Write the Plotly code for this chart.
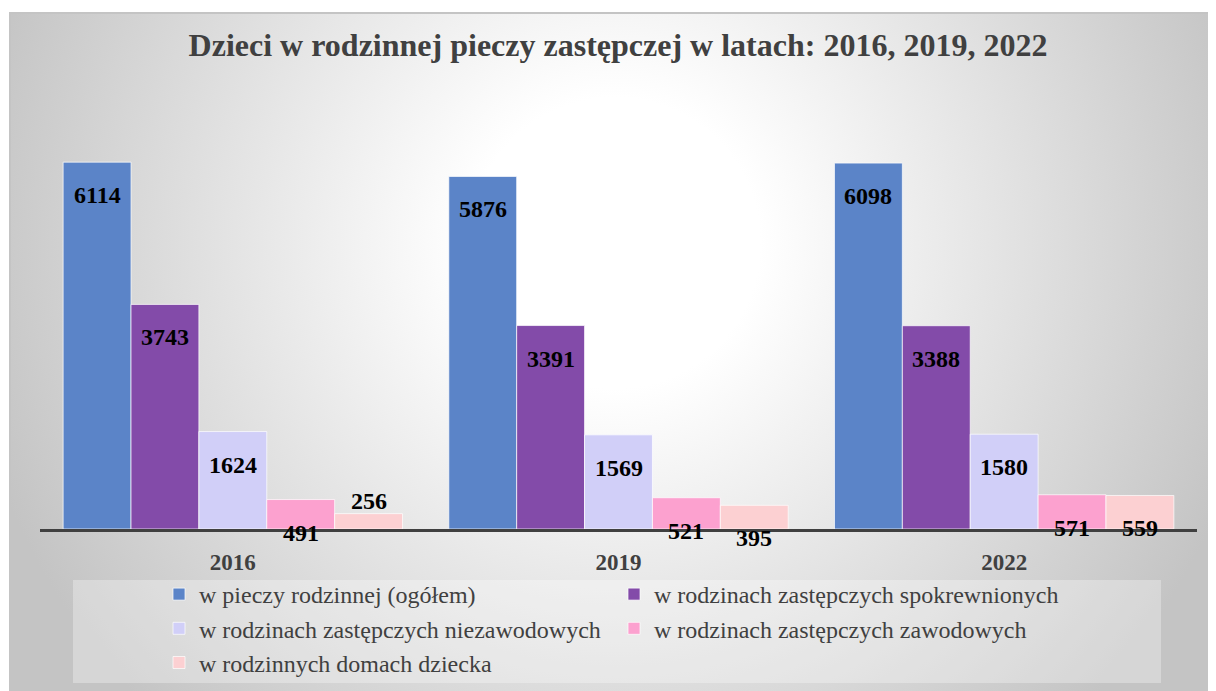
import base64
import plotly.graph_objects as go

# ---- data ----
years = ["2016", "2019", "2022"]
series_names = [
    "w pieczy rodzinnej (ogółem)",
    "w rodzinach zastępczych spokrewnionych",
    "w rodzinach zastępczych niezawodowych",
    "w rodzinach zastępczych zawodowych",
    "w rodzinnych domach dziecka",
]
ogolem = [6114, 5876, 6098]
spokrewnione = [3743, 3391, 3388]
niezawodowe = [1624, 1569, 1580]
zawodowe = [491, 521, 571]
domy_dziecka = [256, 395, 559]
title_text = "Dzieci w rodzinnej pieczy zastępczej w latach: 2016, 2019, 2022"

series_values = [ogolem, spokrewnione, niezawodowe, zawodowe, domy_dziecka]
colors = ["#5B84C8", "#834BA9", "#D1CFF8", "#FCA1CF", "#FCD0D2"]

# page body has an 8px margin: work in screen coords and subtract it
OFF = 8
W, H = 1216 - OFF, 691 - OFF
ML, MR, MT = 40 - OFF, 19, 109 - OFF
PW, PH = 1157, 420
MB = H - MT - PH


def px2x(px):  # screen px -> paper fraction
    return (px - OFF - ML) / PW


def px2y(py):
    return (MT + PH - (py - OFF)) / PH


def cx(px):  # screen px -> container fraction
    return (px - OFF) / W


def cy(py):
    return 1 - (py - OFF) / H


# background radial gradient as svg
bw_, bh_ = 1216 - 10, 691 - 13
svg = f'''<svg xmlns="http://www.w3.org/2000/svg" width="{bw_}" height="{bh_}" viewBox="0 0 {bw_} {bh_}" preserveAspectRatio="none">
<defs><radialGradient id="g" gradientUnits="userSpaceOnUse" cx="605" cy="230" r="660">
<stop offset="0" stop-color="#ffffff"/><stop offset="0.22" stop-color="#ffffff"/>
<stop offset="1" stop-color="#c4c4c4"/></radialGradient></defs>
<rect x="0" y="0" width="{bw_}" height="{bh_}" fill="url(#g)"/></svg>'''
src = "data:image/svg+xml;base64," + base64.b64encode(svg.encode()).decode()

fig = go.Figure()
for name, vals, col in zip(series_names, series_values, colors):
    fig.add_trace(go.Bar(
        name=name, x=years, y=vals,
        marker=dict(color=col, line=dict(color="rgba(255,255,255,0.7)", width=1)),
        hoverinfo="x+y+name",
    ))

# data labels
n = len(series_values)
bar_px = PW / len(years) * (1 - 0.12) / n
annotations = []
for i, vals in enumerate(series_values):
    for j, v in enumerate(vals):
        above = (i == 4 and j == 0)
        annotations.append(dict(
            x=j, y=v, xref="x", yref="y",
            text=f"<b>{v}</b>", showarrow=False,
            xshift=(i - (n - 1) / 2) * bar_px,
            yshift=13 if above else -33,
            yanchor="middle",
            font=dict(family="Liberation Serif", size=24, color="#000000"),
        ))

fig.update_layout(
    width=W, height=H,
    margin=dict(l=ML, r=MR, t=MT, b=MB, autoexpand=False),
    paper_bgcolor="white",
    plot_bgcolor="rgba(0,0,0,0)",
    barmode="group", bargap=0.12, bargroupgap=0,
    title=dict(text=f"<b>{title_text}</b>", x=cx(618), xanchor="center",
               y=cy(45), yanchor="middle", yref="container", xref="container",
               font=dict(family="Liberation Serif", size=32, color="#404040")),
    xaxis=dict(type="category", range=[-0.5, len(years) - 0.5],
               showline=True, linecolor="#404040", linewidth=3,
               tickvals=years, ticktext=[f"<b>{y}</b>" for y in years],
               ticks="outside", ticklen=10, tickcolor="rgba(0,0,0,0)",
               tickfont=dict(family="Liberation Serif", size=23, color="#404040"),
               showgrid=False, zeroline=False, automargin=False),
    yaxis=dict(range=[0, 7000], visible=False, showgrid=False, zeroline=False),
    legend=dict(orientation="h", xref="container", yref="container",
                x=cx(159), xanchor="left", y=cy(572), yanchor="top",
                entrywidth=410, entrywidthmode="pixels", bgcolor="rgba(0,0,0,0)",
                font=dict(family="Liberation Serif", size=24, color="#404040"),
                itemclick=False),
    annotations=annotations,
    images=[dict(source=src, xref="paper", yref="paper", x=px2x(10), y=px2y(13),
                 sizex=bw_ / PW, sizey=bh_ / PH, xanchor="left", yanchor="top",
                 sizing="stretch", layer="below")],
    shapes=[
        dict(type="rect", xref="paper", yref="paper", x0=px2x(73), x1=px2x(1161),
             y0=px2y(580), y1=px2y(683), fillcolor="rgba(255,255,255,0.3)",
             line=dict(width=0), layer="below"),
        dict(type="rect", xref="paper", yref="paper", x0=px2x(10), x1=px2x(1222),
             y0=px2y(13), y1=px2y(697), fillcolor="rgba(0,0,0,0)",
             line=dict(width=2, color="#c4c4c4"), layer="above"),
    ],
    showlegend=True,
)

fig.write_html("out.html")
